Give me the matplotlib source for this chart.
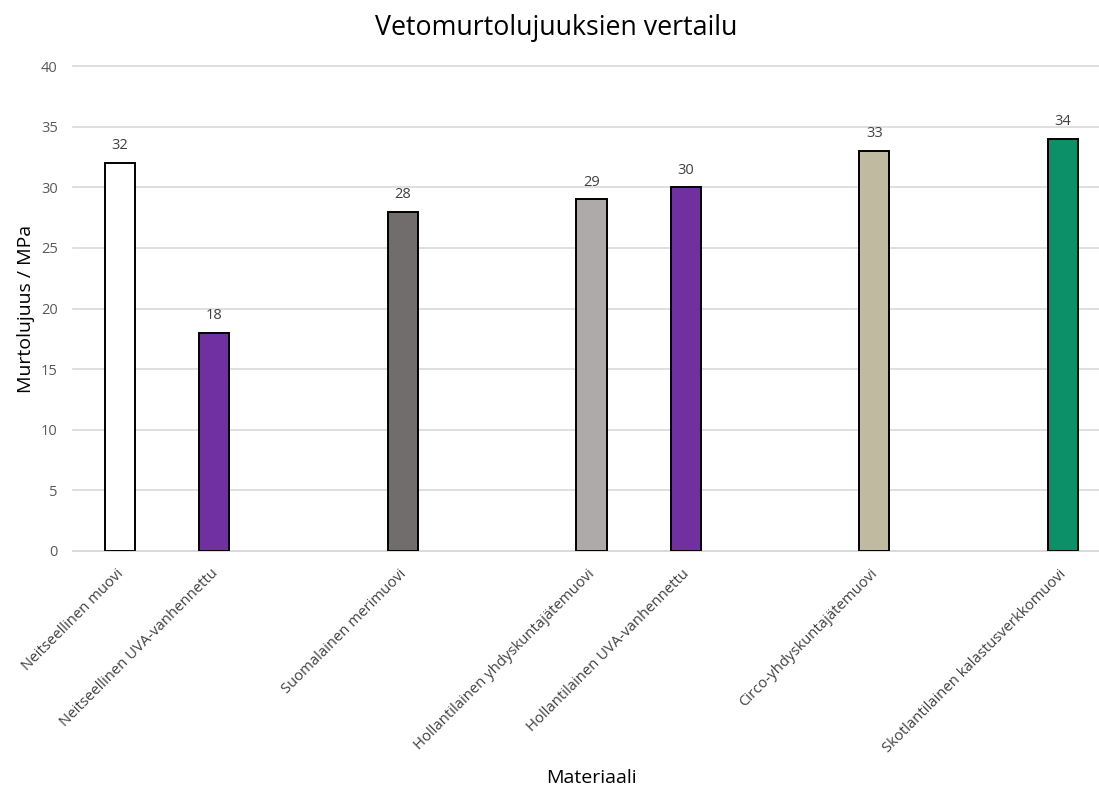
import numpy as np
import matplotlib
matplotlib.use("Agg")
import matplotlib.pyplot as plt
import matplotlib.transforms as mtransforms

plt.rcParams['font.family'] = ['Open Sans', 'DejaVu Sans']

# Category slots (empty strings are spacer slots with no bar)
categories = [
    "Neitseellinen muovi",
    "Neitseellinen UVA-vanhennettu",
    "",
    "Suomalainen merimuovi",
    "",
    "Hollantilainen yhdyskuntajätemuovi",
    "Hollantilainen UVA-vanhennettu",
    "",
    "Circo-yhdyskuntajätemuovi",
    "",
    "Skotlantilainen kalastusverkkomuovi",
]
values = [32, 18, None, 28, None, 29, 30, None, 33, None, 34]
colors = ["#FFFFFF", "#7030A0", None, "#726D6D", None, "#AEAAAA",
          "#7030A0", None, "#C0BBA0", None, "#0C9068"]
y_ticks = [0, 5, 10, 15, 20, 25, 30, 35, 40]

W, H = 1099, 792
fig = plt.figure(figsize=(W / 100, H / 100), dpi=100)
# plot area in pixels: left 73, right 1110 (runs past the figure edge), top 66, bottom 551
ax = fig.add_axes([73 / W, 1 - 551 / H, (1110 - 73) / W, (551 - 66) / H])

n = len(categories)
x = np.arange(n)
for i, (v, c) in enumerate(zip(values, colors)):
    if v is None:
        continue
    ax.bar(x[i], v, width=0.32, color=c, edgecolor="black", linewidth=1.4, zorder=3)
    ax.text(x[i], v + 0.8, f"{v}", ha="center", va="bottom",
            fontsize=10.5, color="#404040", zorder=4)

ax.set_xlim(-0.5, n - 0.5)
ax.set_ylim(0, 40)
ax.set_yticks(y_ticks)
ax.yaxis.grid(True, color="#D9D9D9", linewidth=1.2, zorder=0)
for gl in ax.get_ygridlines():
    gl.set_clip_on(False)
ax.set_axisbelow(True)
for s in ["top", "right", "left"]:
    ax.spines[s].set_visible(False)
ax.spines["bottom"].set_color("#D9D9D9")
ax.spines["bottom"].set_linewidth(1.2)
ax.tick_params(axis="y", length=0, labelsize=10.5, labelcolor="#595959", pad=11)
ax.tick_params(axis="x", length=0, pad=11)

ticks = [i for i, c in enumerate(categories) if c]
ax.set_xticks(ticks)
ax.set_xticklabels([categories[i] for i in ticks], rotation=45, ha="right",
                   va="top", rotation_mode="anchor", fontsize=10.7, color="#404040")
# nudge the slanted labels slightly left so their ends sit under the bars
shift = mtransforms.ScaledTranslation(-4 / 100, 0, fig.dpi_scale_trans)
for lbl in ax.get_xticklabels():
    lbl.set_transform(lbl.get_transform() + shift)

ax.set_ylabel("Murtolujuus / MPa", fontsize=14, color="black", labelpad=4)
fig.text(591 / W, 1 - 783 / H, "Materiaali", ha="center", va="baseline", fontsize=14)
fig.text(556 / W, 1 - 35 / H, "Vetomurtolujuuksien vertailu", ha="center",
         va="baseline", fontsize=19.3)

fig.savefig("out.png", dpi=100)
